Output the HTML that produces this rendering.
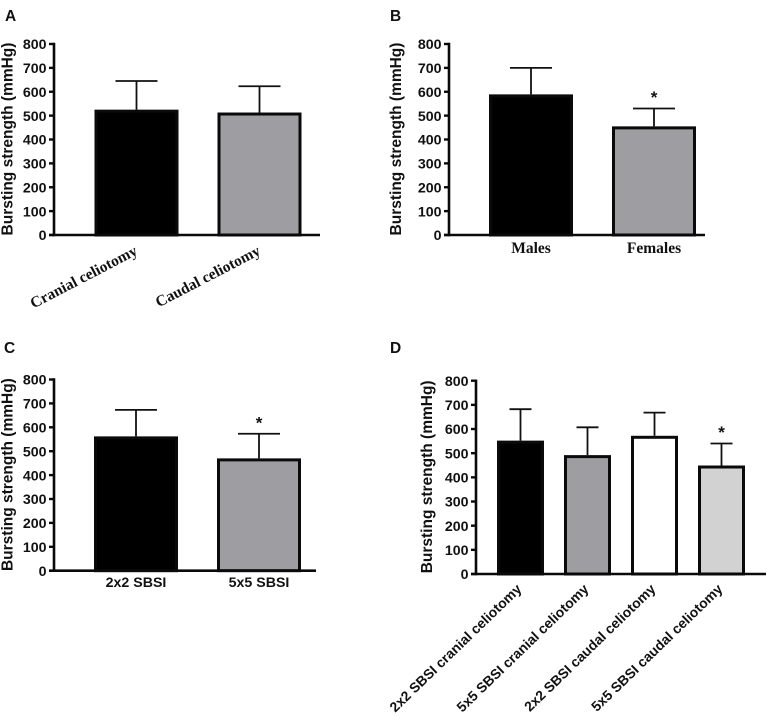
<!DOCTYPE html>
<html lang="en">
<head>
<meta charset="utf-8">
<title>Bursting strength panels</title>
<style>
html,body{margin:0;padding:0;background:#fff;width:767px;height:720px;overflow:hidden}
svg{display:block}
text{fill:#111}
.tick{font:bold 14.2px "Liberation Sans",sans-serif}
.title{font:bold 15.5px "Liberation Sans",sans-serif}
.letter{font:bold 15.5px "Liberation Sans",sans-serif}
.serif{font:bold 15.5px "Liberation Serif",serif}
.sans{font:bold 14.2px "Liberation Sans",sans-serif}
.sans-long{font:bold 13.9px "Liberation Sans",sans-serif}
.star{font:bold 17px "Liberation Sans",sans-serif}
</style>
</head>
<body>
<svg id="figure" width="767" height="720" viewBox="0 0 767 720" xmlns="http://www.w3.org/2000/svg"></svg>
<script>
const yTickLabels = [0, 100, 200, 300, 400, 500, 600, 700, 800];

const panelACategories = ["Cranial celiotomy", "Caudal celiotomy"];
const panelAMeans = [525, 513];
const panelAErrors = [120, 110];
const panelAStars = [false, false];

const panelBCategories = ["Males", "Females"];
const panelBMeans = [589, 455];
const panelBErrors = [111, 75];
const panelBStars = [false, true];

const panelCCategories = ["2x2 SBSI", "5x5 SBSI"];
const panelCMeans = [562, 470];
const panelCErrors = [111, 103];
const panelCStars = [false, true];

const panelDCategories = ["2x2 SBSI cranial celiotomy", "5x5 SBSI cranial celiotomy", "2x2 SBSI caudal celiotomy", "5x5 SBSI caudal celiotomy"];
const panelDMeans = [552, 492, 572, 449];
const panelDErrors = [130, 115, 96, 91];
const panelDStars = [false, false, false, true];

const svg = document.getElementById('figure');
const NS = 'http://www.w3.org/2000/svg';

function make(parent, tag, attrs, text) {
  const el = document.createElementNS(NS, tag);
  for (const k in attrs) el.setAttribute(k, attrs[k]);
  if (text !== undefined) el.textContent = text;
  parent.appendChild(el);
  return el;
}

function drawPanel(p) {
  const g = make(svg, 'g', {});
  
  

  const yScale = v => p.y0 + (p.y800 - p.y0) * v / 800;
  const barLeft = i => p.firstBar + i * p.step;

  const letter = make(g, 'text', {x: p.letterX, y: p.letterY, class: 'letter'}, p.letter);
  
  

  const cy = (p.y0 + p.y800) / 2 - 0.5;
  const title = make(g, 'text', {x: p.titleX, y: cy, class: 'title', 'text-anchor': 'middle', transform: 'rotate(-90 ' + p.titleX + ' ' + cy + ')'}, 'Bursting strength (mmHg)');
  
  

  p.means.forEach((m, i) => {
    const cx = barLeft(i) + p.barW / 2;
    const top = yScale(m + p.errors[i]);

    const stem = make(g, 'line', {x1: cx, x2: cx, y1: yScale(m), y2: top, stroke: '#111', 'stroke-width': 1.8});
    
    

    const cap = make(g, 'line', {x1: cx - p.capW / 2, x2: cx + p.capW / 2, y1: top, y2: top, stroke: '#111', 'stroke-width': 1.8});
    
    

    const bar = make(g, 'rect', {x: barLeft(i) + 1.5, y: yScale(m) + 1.5, width: p.barW - 3, height: p.y0 - yScale(m) - 1.5, fill: p.fills[i], stroke: '#0a0a0a', 'stroke-width': 3});
    
    

    if (p.stars[i]) {
      const star = make(g, 'text', {x: cx, y: top - 5.5, class: 'star', 'text-anchor': 'middle'}, '*');
      
      
    }

    let lx = cx, ly = p.labelY, attrs;
    if (p.angle) {
      lx = cx + p.labelDX;
      attrs = {x: lx, y: ly, class: p.labelClass, 'text-anchor': 'end', transform: 'rotate(' + p.angle + ' ' + lx + ' ' + ly + ')'};
    } else {
      attrs = {x: lx, y: ly, class: p.labelClass, 'text-anchor': 'middle'};
    }
    const label = make(g, 'text', attrs, p.categories[i]);
    
    
  });

  const yAxis = make(g, 'line', {x1: p.axisX, x2: p.axisX, y1: p.y800 - 1.2, y2: p.y0 + 1.2, stroke: '#0a0a0a', 'stroke-width': 2.6});
  
  

  const xAxis = make(g, 'line', {x1: p.axisX - 5, x2: p.axisEnd, y1: p.y0, y2: p.y0, stroke: '#0a0a0a', 'stroke-width': 2.6});
  
  

  yTickLabels.forEach(v => {
    const y = yScale(v);
    const tick = make(g, 'line', {x1: p.axisX - 5, x2: p.axisX, y1: y, y2: y, stroke: '#0a0a0a', 'stroke-width': 2.4});
    
    

    const tl = make(g, 'text', {x: p.axisX - 7.5, y: y + 5.2, class: 'tick', 'text-anchor': 'end'}, v);
    
    
  });
}

drawPanel({letter: 'A', letterX: 5, letterY: 21, titleX: 12.5, axisX: 54, axisEnd: 320, y0: 235, y800: 44,
  firstBar: 94.5, step: 123, barW: 84, capW: 42, fills: ['#000000', '#9e9ea2'],
  categories: panelACategories, means: panelAMeans, errors: panelAErrors, stars: panelAStars,
  labelClass: 'serif', labelY: 254, labelDX: 2, angle: -27.5});

drawPanel({letter: 'B', letterX: 390, letterY: 21, titleX: 401, axisX: 449, axisEnd: 705, y0: 235, y800: 44,
  firstBar: 489, step: 123, barW: 84, capW: 42, fills: ['#000000', '#9e9ea2'],
  categories: panelBCategories, means: panelBMeans, errors: panelBErrors, stars: panelBStars,
  labelClass: 'serif', labelY: 253, labelDX: 0, angle: 0});

drawPanel({letter: 'C', letterX: 4, letterY: 353, titleX: 12.5, axisX: 54, axisEnd: 316, y0: 570.7, y800: 379.5,
  firstBar: 94, step: 123, barW: 84, capW: 42, fills: ['#000000', '#9e9ea2'],
  categories: panelCCategories, means: panelCMeans, errors: panelCErrors, stars: panelCStars,
  labelClass: 'sans', labelY: 587, labelDX: 0, angle: 0});

drawPanel({letter: 'D', letterX: 390, letterY: 353, titleX: 432, axisX: 476, axisEnd: 766, y0: 574, y800: 380.7,
  firstBar: 497, step: 67, barW: 47, capW: 22, fills: ['#000000', '#9e9ea2', '#ffffff', '#d2d2d2'],
  categories: panelDCategories, means: panelDMeans, errors: panelDErrors, stars: panelDStars,
  labelClass: 'sans-long', labelY: 590, labelDX: 2, angle: -44});
</script>
</body>
</html>
